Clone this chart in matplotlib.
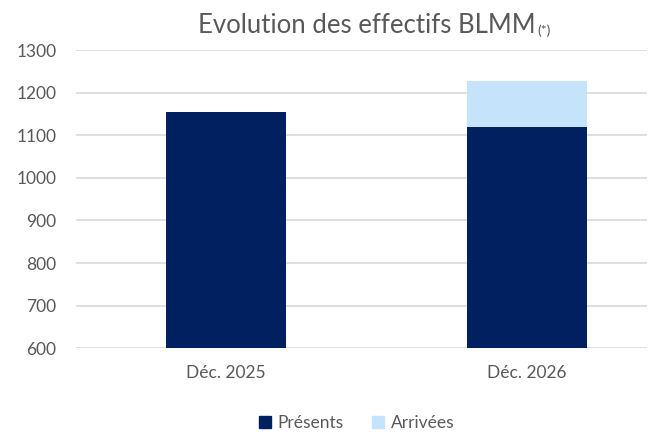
import matplotlib
matplotlib.use("Agg")
import matplotlib.pyplot as plt
from matplotlib.patches import Patch

categories = ["Déc. 2025", "Déc. 2026"]
presents = [1155, 1119]
arrivees = [0, 109]

navy = "#002060"
light = "#C5E3FB"
grey = "#595959"

plt.rcParams["font.family"] = ["Lato", "DejaVu Sans"]

fig = plt.figure(figsize=(6.54, 4.32), dpi=100)
ax = fig.add_axes([0.116, 0.194, 0.873, 0.690])

x = range(len(categories))
ax.bar(x, presents, width=0.40, bottom=0, color=navy, zorder=3)
ax.bar(x, arrivees, width=0.40, bottom=presents, color=light, zorder=3)

ax.set_ylim(600, 1300)
ax.set_yticks(range(600, 1301, 100))
ax.set_xlim(-0.5, 1.4)
ax.set_xticks(list(x))
ax.set_xticklabels(categories)
ax.grid(axis="y", color="#D9D9D9", lw=1.2, zorder=0)
for s in ax.spines.values():
    s.set_visible(False)
ax.tick_params(length=0, labelsize=12.5, labelcolor=grey)
ax.tick_params(axis="x", pad=12)
ax.tick_params(axis="y", pad=14)

# title with small "(*)"
t = fig.text(198 / 654, 0.942, "Evolution des effectifs BLMM", ha="left", va="center",
             fontsize=18.5, color=grey)
fig.canvas.draw()
bb = t.get_window_extent(fig.canvas.get_renderer())
fig.text(bb.x1 / 654 + 0.002, 0.930, "(*)", ha="left", va="center", fontsize=10, color=grey)

handles = [Patch(color=navy, label="Présents"), Patch(color=light, label="Arrivées")]
fig.legend(handles=handles, loc="center", bbox_to_anchor=(0.545, 0.02), ncol=2,
           frameon=False, fontsize=12.5, labelcolor=grey, handlelength=0.7,
           handleheight=0.7, handletextpad=0.4, columnspacing=1.6)

fig.savefig("out.png", dpi=100)
